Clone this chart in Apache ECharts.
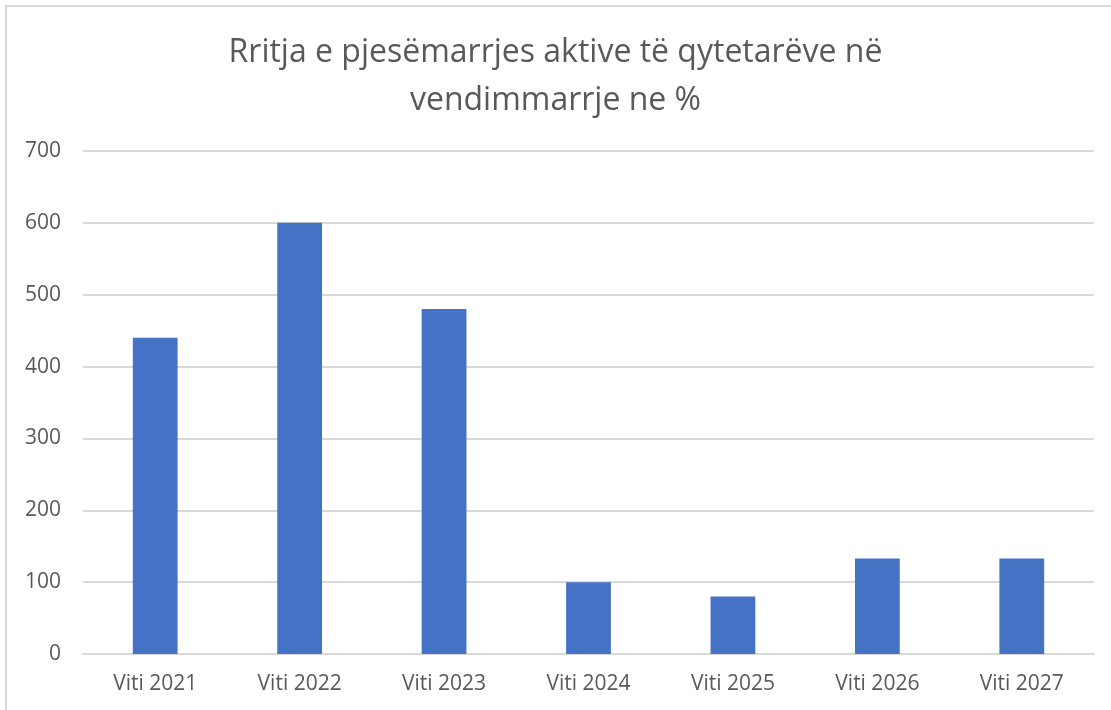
<!DOCTYPE html>
<html>
<head>
<meta charset="utf-8">
<script src="https://cdn.jsdelivr.net/npm/echarts@6/dist/echarts.min.js"></script>
<style>
html, body { margin: 0; padding: 0; background: #fff; }
#container { width: 1111px; height: 710px; }
</style>
</head>
<body>
<div id="container"></div>
<script>
// te dhenat e grafikut
var titleText = 'Rritja e pjesëmarrjes aktive të qytetarëve në\nvendimmarrje ne %';
var years = ['Viti 2021', 'Viti 2022', 'Viti 2023', 'Viti 2024', 'Viti 2025', 'Viti 2026', 'Viti 2027'];
var values = [440, 600, 480, 100, 80, 133, 133];
var yTicks = [0, 100, 200, 300, 400, 500, 600, 700];

var dom = document.getElementById('container');
var myChart = echarts.init(dom);
var fontName = '"Open Sans", "Noto Sans", sans-serif';

myChart.setOption({
    animation: false,
    title: {
        text: titleText,
        left: 'center',
        top: 24,
        textStyle: {
            color: '#595959',
            fontSize: 32,
            fontWeight: 'normal',
            fontFamily: fontName,
            lineHeight: 48
        }
    },
    // rama e jashtme (vetem majtas dhe lart)
    graphic: [{
        type: 'polyline',
        shape: { points: [[6, 710], [6, 6], [1111, 6]] },
        style: { stroke: '#d9d9d9', lineWidth: 2, fill: null }
    }],
    grid: { left: 83, right: 17, top: 151, bottom: 56 },
    xAxis: {
        type: 'category',
        data: years,
        axisLine: { show: true, lineStyle: { color: '#d9d9d9', width: 2 } },
        axisTick: { show: false },
        axisLabel: { color: '#595959', fontSize: 21, fontFamily: fontName, margin: 20 }
    },
    yAxis: {
        type: 'value',
        min: yTicks[0],
        max: yTicks[yTicks.length - 1],
        interval: 100,
        axisLine: { show: false },
        axisTick: { show: false },
        axisLabel: { color: '#595959', fontSize: 21, fontFamily: fontName, margin: 22 },
        splitLine: { lineStyle: { color: '#d9d9d9', width: 2 } }
    },
    series: [{
        type: 'bar',
        data: values,
        barWidth: '31%',
        itemStyle: { color: '#4472c4' }
    }]
});
</script>
</body>
</html>
